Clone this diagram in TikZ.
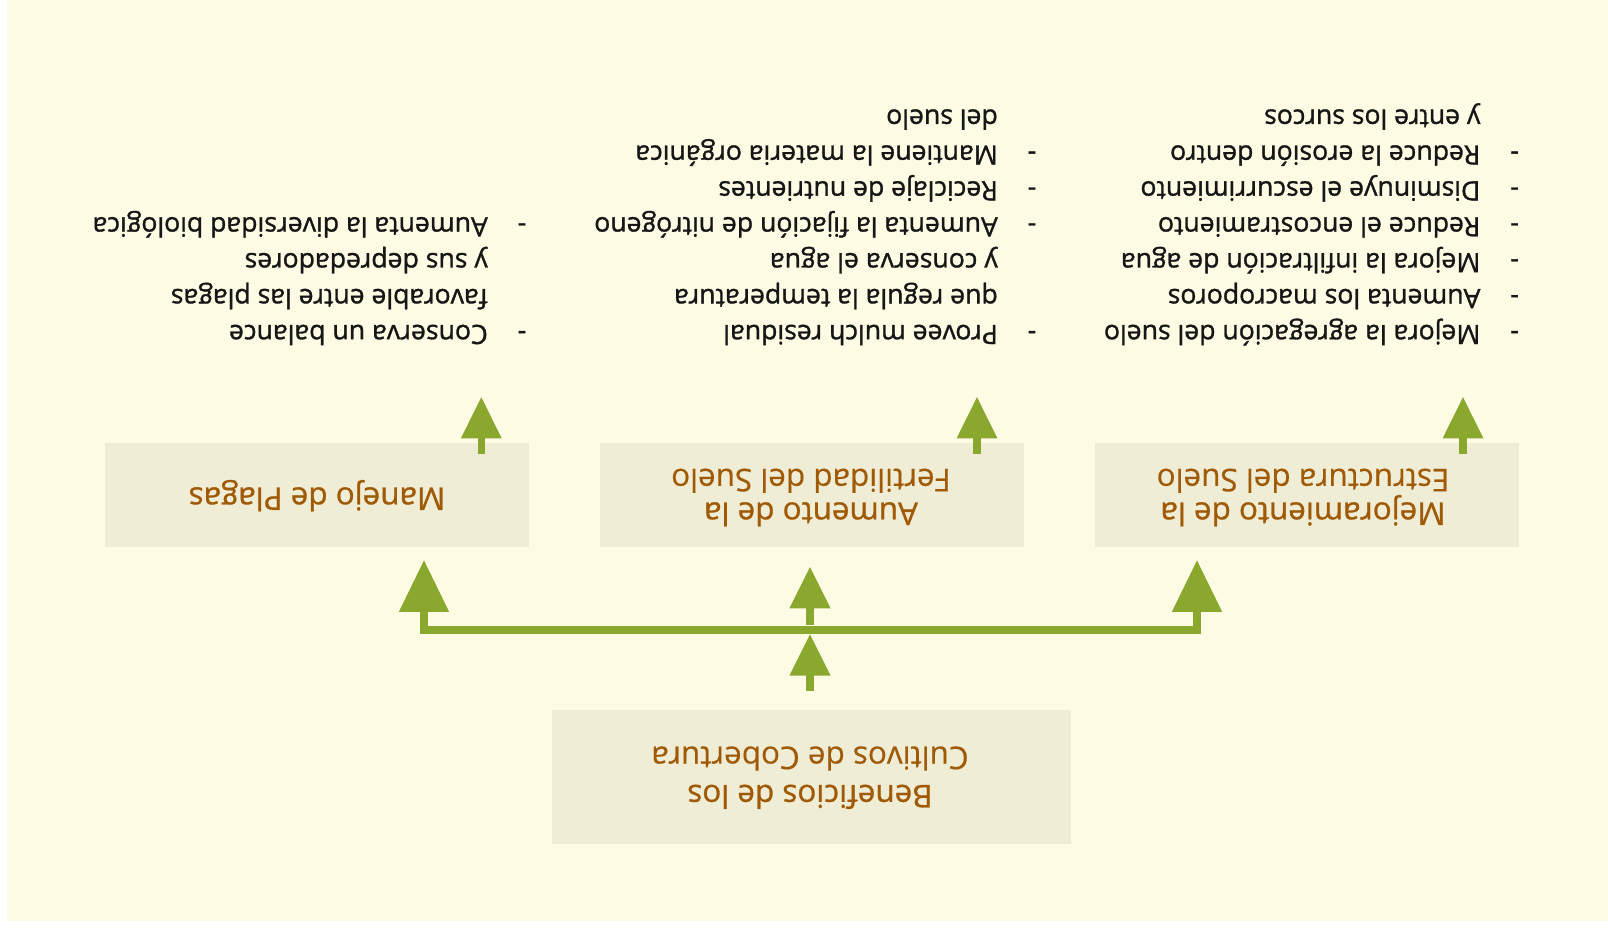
\documentclass[tikz,border=0pt]{standalone}
\usepackage{fontspec}
\setmainfont{Open Sans}
\newfontfamily\listfont{Open Sans}[FakeBold=1.2]
\newfontfamily\headfont{Open Sans}[FakeBold=0.9]
\newfontfamily\subfont{Open Sans}[FakeBold=0.35]
\usetikzlibrary{arrows.meta}

\definecolor{paper}{HTML}{FEFBE5}
\definecolor{boxfill}{HTML}{EFEDD6}
\definecolor{leaf}{HTML}{8AA82D}
\definecolor{rust}{HTML}{A05A05}
\definecolor{ink}{HTML}{161616}

% one bullet line: dash, then the text at a fixed indent
\newcommand{\itm}[1]{\makebox[19.25pt][l]{-}#1}
\newcommand{\cnt}[1]{\hspace*{19.25pt}#1}

\begin{document}
\begin{tikzpicture}[x=0.5pt,y=-0.5pt,
  panel/.style={fill=boxfill, draw=none, inner sep=0pt},
  title/.style={rotate=180, anchor=base, inner sep=0pt, text=rust},
  bullets/.style={rotate=180, anchor=base west, inner sep=0pt, text=ink},
  uparrow/.style={draw=leaf, line width=3.75pt,
    -{Triangle[width=19.3pt,length=20.8pt]}},
  midarrow/.style={draw=leaf, line width=3.75pt,
    -{Triangle[width=19.5pt,length=20.8pt]}},
  forkline/.style={draw=leaf, line width=4pt, line join=miter,
    {Triangle[width=24pt,length=25.9pt]}-{Triangle[width=24pt,length=25.9pt]}}
]
\useasboundingbox (0,0) rectangle (1608,932);
\fill[white] (0,0) rectangle (1608,932);
\fill[paper] (7,0) rectangle (1608,920.5);

% panels
\node[panel, minimum width=212pt, minimum height=52pt] (pest)   at (317,495.3) {};
\node[panel, minimum width=212pt, minimum height=52pt] (fert)   at (811.5,495.3) {};
\node[panel, minimum width=212pt, minimum height=52pt] (struct) at (1307,495.3) {};
\node[panel, minimum width=259.5pt, minimum height=67pt] (benef) at (811,777) {};

% panel titles
\node[title] (tpest) at (317,487.5)
  {\fontsize{15.7pt}{16.15pt}\headfont Manejo de Plagas};
\node[title] (tfert) at (811,502.5)
  {\fontsize{15.7pt}{16.15pt}\selectfont\begin{tabular}[t]{@{}c@{}}
   {\headfont Aumento de la}\\ {\subfont Fertilidad del Suelo}\end{tabular}};
\node[title] (tstruct) at (1303,502.5)
  {\fontsize{15.7pt}{16.15pt}\selectfont\begin{tabular}[t]{@{}c@{}}
   {\headfont Mejoramiento de la}\\ {\subfont Estructura del Suelo}\end{tabular}};
\node[title] (tbenef) at (810,785)
  {\fontsize{15.7pt}{19.15pt}\selectfont\begin{tabular}[t]{@{}c@{}}
   {\headfont Beneficios de los}\\ {\subfont Cultivos de Cobertura}\end{tabular}};

% benefit lists
\node[bullets] (lpest) at (526.7,325)
  {\fontsize{13.3pt}{17.95pt}\listfont\begin{tabular}[t]{@{}l@{}}
   \itm{Conserva un balance}\\
   \cnt{favorable entre las plagas}\\
   \cnt{y sus depredadores}\\
   \itm{Aumenta la diversidad biológica}\end{tabular}};
\node[bullets] (lfert) at (1036.7,325)
  {\fontsize{13.3pt}{17.95pt}\listfont\begin{tabular}[t]{@{}l@{}}
   \itm{Provee mulch residual}\\
   \cnt{que regula la temperatura}\\
   \cnt{y conserva el agua}\\
   \itm{Aumenta la fijación de nitrógeno}\\
   \itm{Reciclaje de nutrientes}\\
   \itm{Mantiene la materia orgánica}\\
   \cnt{del suelo}\end{tabular}};
\node[bullets] (lstruct) at (1519.3,325)
  {\fontsize{13.3pt}{17.95pt}\listfont\begin{tabular}[t]{@{}l@{}}
   \itm{Mejora la agregación del suelo}\\
   \itm{Aumenta los macroporos}\\
   \itm{Mejora la infiltración de agua}\\
   \itm{Reduce el encostramiento}\\
   \itm{Disminuye el escurrimiento}\\
   \itm{Reduce la erosión dentro}\\
   \cnt{y entre los surcos}\end{tabular}};

% arrows from the panels to their lists
\coordinate (pestfoot)   at (481.3,454);
\coordinate (pesttip)    at (481.3,396.7);
\coordinate (fertfoot)   at (977,454);
\coordinate (ferttip)    at (977,396.7);
\coordinate (structfoot) at (1463,454);
\coordinate (structtip)  at (1463,396.7);
\draw[uparrow] (pestfoot) -- (pesttip);
\draw[uparrow] (fertfoot) -- (ferttip);
\draw[uparrow] (structfoot) -- (structtip);

% fork from the benefits panel to the three panels
\coordinate (benefstem) at (810,691);
\coordinate (barbelow)  at (810,634);
\coordinate (barabove)  at (810,624.5);
\coordinate (midtip)    at (810,566.7);
\coordinate (lefttip)   at (424,560);
\coordinate (leftbend)  at (424,630);
\coordinate (rightbend) at (1197,630);
\coordinate (righttip)  at (1197,560);
\draw[midarrow] (benefstem) -- (barbelow);
\draw[forkline] (lefttip) -- (leftbend) -- (rightbend) -- (righttip);
\draw[midarrow] (barabove) -- (midtip);
\end{tikzpicture}
\end{document}
